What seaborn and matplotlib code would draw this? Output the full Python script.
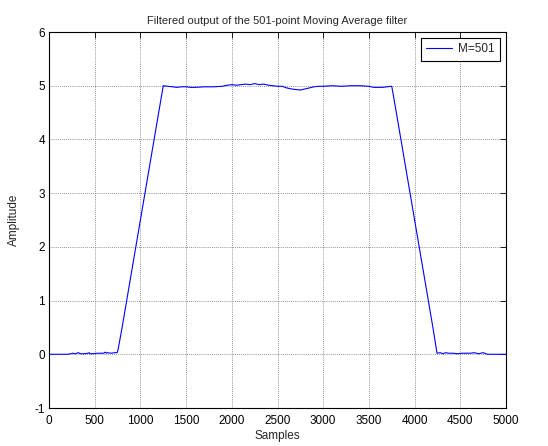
import matplotlib
matplotlib.use("Agg")
import matplotlib.pyplot as plt
import seaborn as sns
import pandas as pd

# Filtered output of the 501-point moving average (sample index, amplitude)
samples = [0, 200, 240, 260, 290, 320, 345, 380, 430, 440, 450, 480, 530, 600,
           615, 630, 640, 680, 720, 745, 755, 800, 900, 1000, 1100, 1200, 1250,
           1300, 1350, 1400, 1450, 1500, 1550, 1600, 1700, 1800, 1900, 1950,
           2000, 2050, 2100, 2150, 2200, 2250, 2300, 2350, 2400, 2450, 2500,
           2550, 2600, 2650, 2700, 2750, 2800, 2850, 2900, 2950, 3000, 3100,
           3200, 3300, 3400, 3500, 3550, 3650, 3700, 3750, 3800, 3900, 4000,
           4100, 4200, 4245, 4280, 4310, 4340, 4370, 4420, 4470, 4520, 4610,
           4650, 4700, 4750, 4800, 5000]
amplitude = [0.00, 0.00, 0.01, 0.02, 0.01, 0.03, 0.01, 0.01, 0.02, 0.03, 0.01,
             0.01, 0.02, 0.02, 0.04, 0.02, 0.03, 0.02, 0.03, 0.03, 0.08, 0.50,
             1.50, 2.50, 3.50, 4.50, 5.00, 4.99, 4.98, 4.97, 4.98, 4.98, 4.97,
             4.97, 4.98, 4.98, 4.99, 5.01, 5.02, 5.01, 5.02, 5.03, 5.02, 5.04,
             5.02, 5.03, 5.01, 5.00, 4.99, 4.99, 4.96, 4.94, 4.93, 4.92, 4.94,
             4.96, 4.98, 4.99, 4.99, 5.00, 4.99, 5.00, 5.00, 4.99, 4.97, 4.97,
             4.98, 4.99, 4.50, 3.50, 2.50, 1.50, 0.50, 0.02, 0.03, 0.01, 0.03,
             0.02, 0.02, 0.01, 0.02, 0.02, 0.03, 0.01, 0.03, 0.00, 0.00]
series_label = "M=501"

x_ticks = [0, 500, 1000, 1500, 2000, 2500, 3000, 3500, 4000, 4500, 5000]
y_ticks = [-1, 0, 1, 2, 3, 4, 5, 6]

df = pd.DataFrame({"Samples": samples, "Amplitude": amplitude})

sns.set_style("white")
plt.rcParams["font.family"] = ["Liberation Sans", "DejaVu Sans"]
plt.rcParams["font.size"] = 8
plt.rcParams["axes.unicode_minus"] = False

fig = plt.figure(figsize=(5.48, 4.46), dpi=100)
ax = fig.add_axes([0.0894, 0.0852, 0.8340, 0.8430])

sns.lineplot(data=df, x="Samples", y="Amplitude", ax=ax, color="#0000ff",
             linewidth=0.8, label=series_label, sort=False)

ax.set_xlim(0, 5000)
ax.set_ylim(-1, 6)
ax.set_xticks(x_ticks)
ax.set_yticks(y_ticks)
ax.grid(True, linestyle=(0, (1, 1.5)), color="#707070", linewidth=0.6)
ax.set_axisbelow(True)
ax.tick_params(direction="in", length=4, width=0.6, top=True, right=True,
               labelsize=8.5, colors="black")
ax.tick_params(axis="x", pad=5)
ax.tick_params(axis="y", pad=3)
for s in ax.spines.values():
    s.set_color("black")
    s.set_linewidth(0.8)

ax.set_title("Filtered output of the 501-point Moving Average filter",
             fontsize=8, pad=6)
ax.set_xlabel("Samples", fontsize=8.5, labelpad=2)
ax.set_ylabel("Amplitude", fontsize=8.5, labelpad=10)

leg = ax.legend(loc="upper right", fontsize=8.5, frameon=True, fancybox=False,
                edgecolor="black", framealpha=1, handlelength=2.2,
                handletextpad=0.5, borderaxespad=0.5, borderpad=0.45)
leg.get_frame().set_linewidth(0.8)

fig.savefig("out.png", dpi=100)
